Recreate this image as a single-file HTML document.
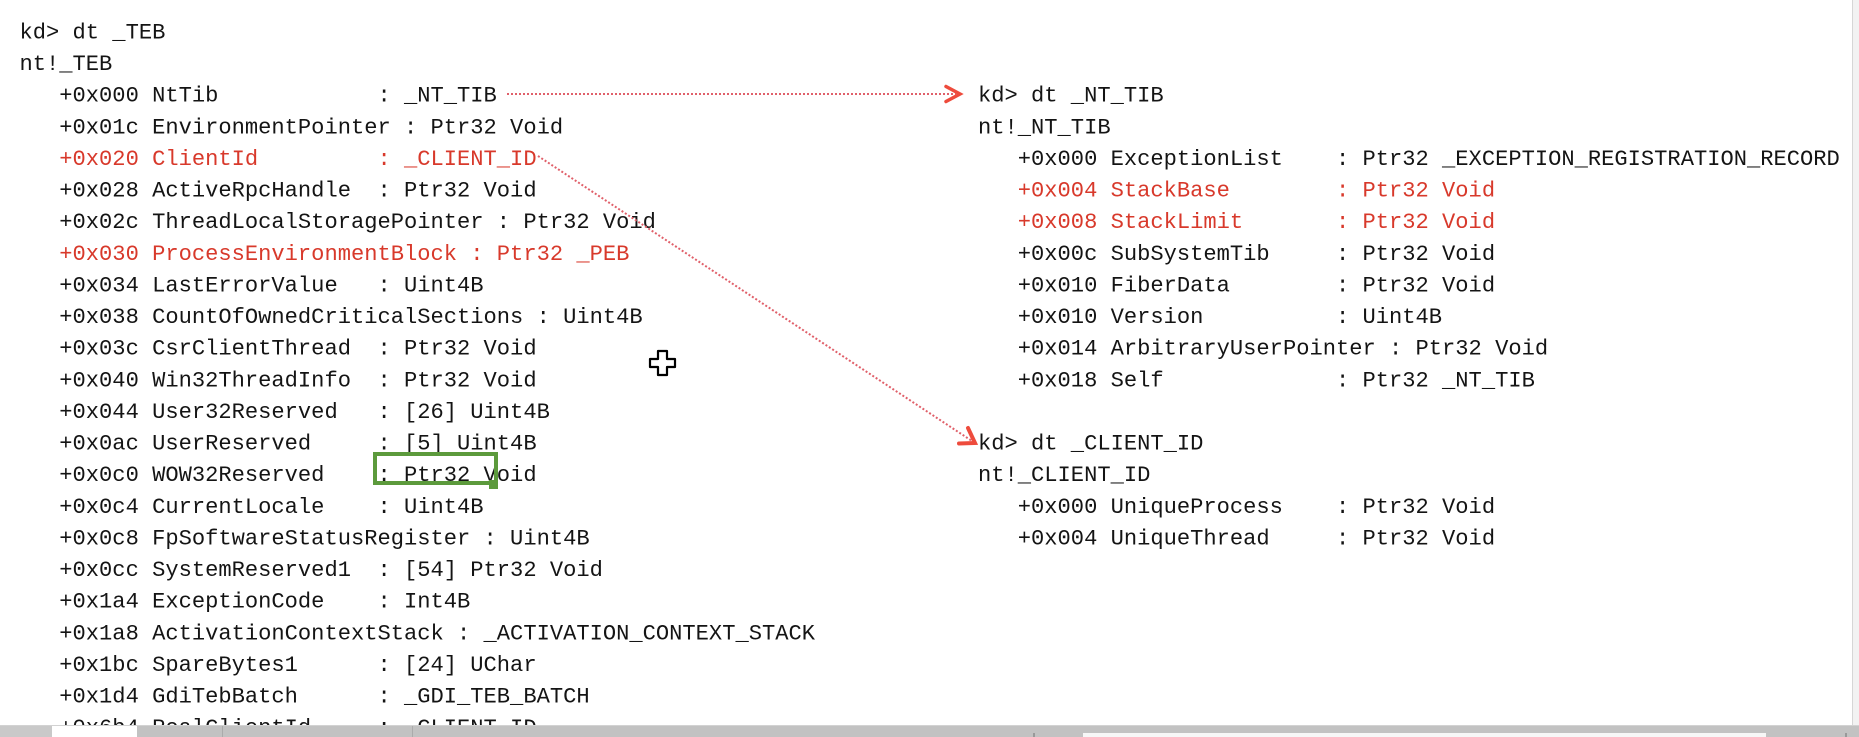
<!DOCTYPE html>
<html>
<head>
<meta charset="utf-8">
<style>
  html,body{margin:0;padding:0;background:#fff;}
  body{width:1859px;height:737px;overflow:hidden;position:relative;}
  svg{position:absolute;left:0;top:0;}
  text{font-family:"Liberation Mono","DejaVu Sans Mono",monospace;font-size:22.1px;white-space:pre;fill:#141414;}
  text.r{fill:#d8392b;}
</style>
</head>
<body>
<svg width="1859" height="737" viewBox="0 0 1859 737" xmlns="http://www.w3.org/2000/svg" xml:space="preserve">
  <rect x="0" y="0" width="1859" height="737" fill="#ffffff"/>
  <!-- right edge column -->
  <rect x="1852" y="0" width="7" height="737" fill="#f2f2f2"/>
  <line x1="1852.5" y1="0" x2="1852.5" y2="725" stroke="#d6d6d6" stroke-width="1"/>

  <!-- Left column: _TEB -->
  <text x="19.5" y="38.5">kd&gt; dt _TEB</text>
  <text x="19.5" y="70.1">nt!_TEB</text>
  <text x="19.5" y="101.7">   +0x000 NtTib            : _NT_TIB</text>
  <text x="19.5" y="133.4">   +0x01c EnvironmentPointer : Ptr32 Void</text>
  <text class="r" x="19.5" y="165.0">   +0x020 ClientId         : _CLIENT_ID</text>
  <text x="19.5" y="196.6">   +0x028 ActiveRpcHandle  : Ptr32 Void</text>
  <text x="19.5" y="228.2">   +0x02c ThreadLocalStoragePointer : Ptr32 Void</text>
  <text class="r" x="19.5" y="259.8">   +0x030 ProcessEnvironmentBlock : Ptr32 _PEB</text>
  <text x="19.5" y="291.5">   +0x034 LastErrorValue   : Uint4B</text>
  <text x="19.5" y="323.1">   +0x038 CountOfOwnedCriticalSections : Uint4B</text>
  <text x="19.5" y="354.7">   +0x03c CsrClientThread  : Ptr32 Void</text>
  <text x="19.5" y="386.3">   +0x040 Win32ThreadInfo  : Ptr32 Void</text>
  <text x="19.5" y="417.9">   +0x044 User32Reserved   : [26] Uint4B</text>
  <text x="19.5" y="449.6">   +0x0ac UserReserved     : [5] Uint4B</text>
  <text x="19.5" y="481.2">   +0x0c0 WOW32Reserved    : Ptr32 Void</text>
  <text x="19.5" y="512.8">   +0x0c4 CurrentLocale    : Uint4B</text>
  <text x="19.5" y="544.4">   +0x0c8 FpSoftwareStatusRegister : Uint4B</text>
  <text x="19.5" y="576.0">   +0x0cc SystemReserved1  : [54] Ptr32 Void</text>
  <text x="19.5" y="607.7">   +0x1a4 ExceptionCode    : Int4B</text>
  <text x="19.5" y="639.3">   +0x1a8 ActivationContextStack : _ACTIVATION_CONTEXT_STACK</text>
  <text x="19.5" y="670.9">   +0x1bc SpareBytes1      : [24] UChar</text>
  <text x="19.5" y="702.5">   +0x1d4 GdiTebBatch      : _GDI_TEB_BATCH</text>
  <text x="19.5" y="734.1">   +0x6b4 RealClientId     : _CLIENT_ID</text>

  <!-- Right column: _NT_TIB -->
  <text x="978" y="101.7">kd&gt; dt _NT_TIB</text>
  <text x="978" y="133.4">nt!_NT_TIB</text>
  <text x="978" y="165.0">   +0x000 ExceptionList    : Ptr32 _EXCEPTION_REGISTRATION_RECORD</text>
  <text class="r" x="978" y="196.6">   +0x004 StackBase        : Ptr32 Void</text>
  <text class="r" x="978" y="228.2">   +0x008 StackLimit       : Ptr32 Void</text>
  <text x="978" y="259.8">   +0x00c SubSystemTib     : Ptr32 Void</text>
  <text x="978" y="291.5">   +0x010 FiberData        : Ptr32 Void</text>
  <text x="978" y="323.1">   +0x010 Version          : Uint4B</text>
  <text x="978" y="354.7">   +0x014 ArbitraryUserPointer : Ptr32 Void</text>
  <text x="978" y="386.3">   +0x018 Self             : Ptr32 _NT_TIB</text>

  <!-- Right column: _CLIENT_ID -->
  <text x="978" y="449.6">kd&gt; dt _CLIENT_ID</text>
  <text x="978" y="481.2">nt!_CLIENT_ID</text>
  <text x="978" y="512.8">   +0x000 UniqueProcess    : Ptr32 Void</text>
  <text x="978" y="544.4">   +0x004 UniqueThread     : Ptr32 Void</text>

  <!-- Arrow 1: _NT_TIB dotted horizontal -->
  <line x1="507" y1="94" x2="956" y2="94" stroke="#e0606a" stroke-width="2" stroke-dasharray="2 2"/>
  <polyline points="946,86.5 960,94 946,101.5" fill="none" stroke="#ee4b3c" stroke-width="3.5" stroke-linejoin="miter" stroke-linecap="round"/>

  <!-- Arrow 2: _CLIENT_ID dotted diagonal -->
  <line x1="538" y1="156" x2="972" y2="441" stroke="#e0606a" stroke-width="2" stroke-dasharray="2 2"/>
  <polyline points="959,443.5 975,443 968,428" fill="none" stroke="#ee4b3c" stroke-width="4" stroke-linejoin="miter" stroke-linecap="round"/>

  <!-- Green selection box -->
  <rect x="375" y="454" width="121" height="29" fill="none" stroke="#5c9a3c" stroke-width="4"/>
  <rect x="489" y="480" width="9" height="9" fill="#5c9a3c"/>

  <!-- Cursor (plus shape) -->
  <path d="M658,351 h9 v8 h8 v8 h-8 v8 h-9 v-8 h-8 v-8 h8 z" fill="#ffffff" stroke="#000000" stroke-width="2.2" stroke-linejoin="round"/>

  <!-- Bottom gray bar -->
  <rect x="0" y="725" width="1859" height="12" fill="#c2c2c2"/>
  <rect x="0" y="725" width="52" height="12" fill="#c9c9c9"/>
  <rect x="52" y="725" width="85" height="12" fill="#ffffff"/>
  <line x1="222.5" y1="726" x2="222.5" y2="737" stroke="#ababab" stroke-width="1"/>
  <line x1="412.5" y1="726" x2="412.5" y2="737" stroke="#ababab" stroke-width="1"/>
  <rect x="1083" y="733" width="683" height="4" fill="#f7f7f7"/>
  <rect x="1033" y="733" width="2" height="4" fill="#999"/>
  <rect x="1845" y="733" width="2" height="4" fill="#999"/>
  <line x1="0" y1="725.5" x2="1859" y2="725.5" stroke="#d2d2d2" stroke-width="1"/>
</svg>
</body>
</html>
